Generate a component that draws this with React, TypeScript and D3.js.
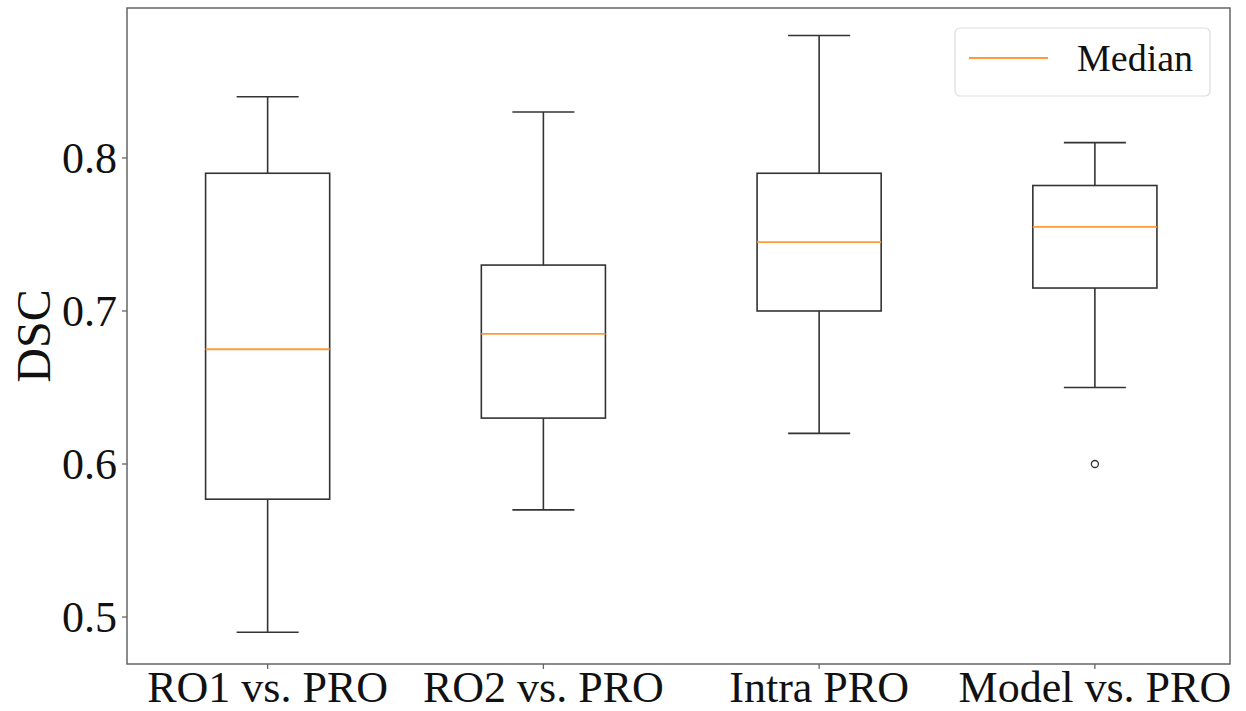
import React, { useEffect, useRef } from 'react';
import * as d3 from 'd3';

const categories = ['RO1 vs. PRO', 'RO2 vs. PRO', 'Intra PRO', 'Model vs. PRO'];
const whiskerLow = [0.49, 0.57, 0.62, 0.65];
const q1 = [0.577, 0.63, 0.70, 0.715];
const medians = [0.675, 0.685, 0.745, 0.755];
const q3 = [0.79, 0.73, 0.79, 0.782];
const whiskerHigh = [0.84, 0.83, 0.88, 0.81];
const outliers = [[], [], [], [0.60]];
const yTicks = [0.5, 0.6, 0.7, 0.8];

const App = () => {
  const ref = useRef(null);

  useEffect(() => {
    d3.select(ref.current).select('svg').remove();

    const width = 1246;
    const height = 711;
    const left = 127, right = 1230, top = 8, bottom = 664;
    const font = '"Liberation Serif", "Times New Roman", serif';
    const boxColor = '#333';
    const medianColor = '#ff9a3c';

    const svg = d3.select(ref.current)
      .append('svg')
      .attr('width', width)
      .attr('height', height)
      .style('position', 'absolute')
      .style('left', 0)
      .style('top', 0)
      .style('background', '#fff');

    const x = d3.scaleLinear().domain([0.49, 4.49]).range([left, right]);
    const y = d3.scaleLinear().domain([0.4693, 0.898]).range([bottom, top]);
    const boxW = x(1.45) - x(1);
    const capW = boxW / 2;

    const g = svg.append('g');

    categories.forEach((c, i) => {
      const cx = x(i + 1);
      // whiskers
      g.append('line')
        .attr('x1', cx).attr('x2', cx)
        .attr('y1', y(whiskerLow[i])).attr('y2', y(q1[i]))
        .attr('stroke', boxColor).attr('stroke-width', 1.6);
      g.append('line')
        .attr('x1', cx).attr('x2', cx)
        .attr('y1', y(q3[i])).attr('y2', y(whiskerHigh[i]))
        .attr('stroke', boxColor).attr('stroke-width', 1.6);
      [whiskerLow[i], whiskerHigh[i]].forEach(v => {
        g.append('line')
          .attr('x1', cx - capW / 2).attr('x2', cx + capW / 2)
          .attr('y1', y(v)).attr('y2', y(v))
          .attr('stroke', boxColor).attr('stroke-width', 1.6);
      });
      // box
      g.append('rect')
        .attr('x', cx - boxW / 2)
        .attr('y', y(q3[i]))
        .attr('width', boxW)
        .attr('height', y(q1[i]) - y(q3[i]))
        .attr('fill', 'none')
        .attr('stroke', boxColor)
        .attr('stroke-width', 1.6);
      // median
      g.append('line')
        .attr('x1', cx - boxW / 2).attr('x2', cx + boxW / 2)
        .attr('y1', y(medians[i])).attr('y2', y(medians[i]))
        .attr('stroke', medianColor).attr('stroke-width', 1.8);
      outliers[i].forEach(v => {
        g.append('circle')
          .attr('cx', cx).attr('cy', y(v)).attr('r', 3.5)
          .attr('fill', 'none').attr('stroke', boxColor).attr('stroke-width', 1.3);
      });
    });

    // frame
    svg.append('rect')
      .attr('x', left).attr('y', top)
      .attr('width', right - left).attr('height', bottom - top)
      .attr('fill', 'none').attr('stroke', '#666').attr('stroke-width', 1.5);

    // y axis
    yTicks.forEach(t => {
      svg.append('line')
        .attr('x1', left - 5).attr('x2', left)
        .attr('y1', y(t)).attr('y2', y(t))
        .attr('stroke', '#666').attr('stroke-width', 1.3);
      svg.append('text')
        .attr('x', left - 10).attr('y', y(t))
        .attr('dy', '0.35em')
        .attr('text-anchor', 'end')
        .style('font-family', font)
        .style('font-size', '44px')
        .attr('fill', '#111')
        .text(t.toFixed(1));
    });

    // x axis
    categories.forEach((c, i) => {
      svg.append('line')
        .attr('x1', x(i + 1)).attr('x2', x(i + 1))
        .attr('y1', bottom).attr('y2', bottom + 5)
        .attr('stroke', '#666').attr('stroke-width', 1.3);
      svg.append('text')
        .attr('x', x(i + 1)).attr('y', 702)
        .attr('text-anchor', 'middle')
        .style('font-family', font)
        .style('font-size', '44px')
        .attr('fill', '#111')
        .text(c);
    });

    svg.append('text')
      .attr('transform', 'translate(50,336) rotate(-90)')
      .attr('text-anchor', 'middle')
      .style('font-family', font)
      .style('font-size', '48px')
      .attr('fill', '#111')
      .text('DSC');

    // legend
    const lg = svg.append('g');
    lg.append('rect')
      .attr('x', 955).attr('y', 28)
      .attr('width', 255).attr('height', 68)
      .attr('rx', 5)
      .attr('fill', '#fff')
      .attr('stroke', '#ddd').attr('stroke-width', 1.2);
    lg.append('line')
      .attr('x1', 969).attr('x2', 1048)
      .attr('y1', 58).attr('y2', 58)
      .attr('stroke', medianColor).attr('stroke-width', 2.2);
    lg.append('text')
      .attr('x', 1077).attr('y', 71)
      .style('font-family', font)
      .style('font-size', '38px')
      .attr('fill', '#111')
      .text('Median');
  }, []);

  return <div ref={ref}></div>;
};

export default App;
